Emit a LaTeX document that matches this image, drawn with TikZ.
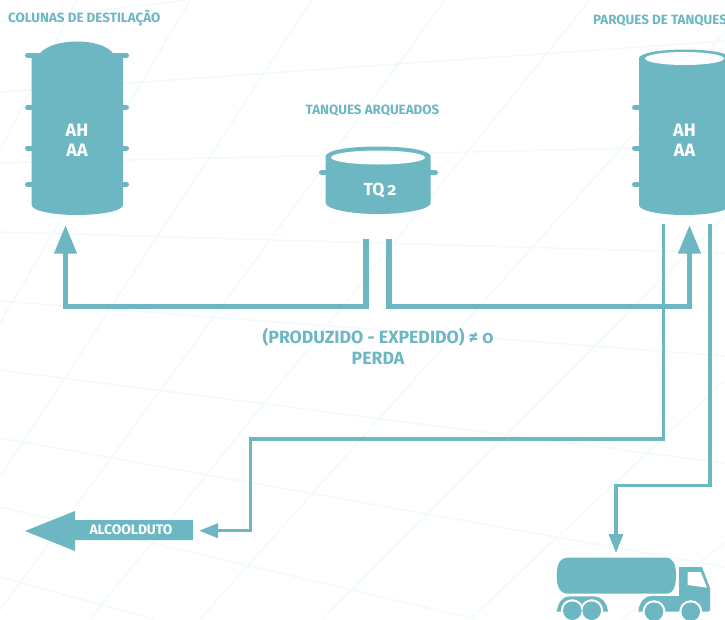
\documentclass[tikz,border=0pt]{standalone}
\usepackage{fontspec}
\setmainfont[Numbers=OldStyle]{Fira Sans}
\usetikzlibrary{arrows.meta}
\definecolor{tealmain}{HTML}{6CB7C2}
\definecolor{gridfaint}{HTML}{F0FAFC}
\tikzset{
    title/.style={font=\bfseries\fontsize{13.4}{16}\selectfont,text=tealmain,inner sep=0pt},
    inner/.style={font=\bfseries\fontsize{18}{20}\selectfont,text=white,inner sep=0pt,align=center},
    stub/.style={line width=5pt,line cap=round,tealmain},
    pipe/.style={line width=5.5pt,tealmain},
    thinpipe/.style={line width=3.5pt,tealmain},
    bigtip/.style={-{Triangle[length=28.5pt,width=21.5pt]}},
    smalltip/.style={-{Triangle[length=19pt,width=14pt]}}
}
\begin{document}
\begin{tikzpicture}[x=1pt,y=-1pt]
\useasboundingbox (0,0) rectangle (725,619);
\clip (0,0) rectangle (725,619);

% Draw the faint grid behind everything
\foreach \a/\b/\c/\d in {0/22/187/0,0/92/725/41,0/163/725/146,0/232/725/253,0/301/725/356,
    0/370/725/463,0/438/725/567,0/507/475/619,0/577/153/619,
    77/0/0/150,190/0/0/323,312/0/0/477,445/0/0/610,590/0/90/619,
    725/32/200/619,725/215/323/619,725/380/470/619,725/543/622/619}{
    \draw[gridfaint,line width=1.4pt] (\a,\b) -- (\c,\d);
}

% Draw the distillation column
\fill[tealmain] (31.7,55) -- (40,53) .. controls (48,45) and (62,41.5) .. (77,41.5)
    .. controls (92,41.5) and (106,45) .. (113,53) -- (123,55) -- (123,205)
    .. controls (123,211) and (100,215) .. (77,215)
    .. controls (54,215) and (31.7,211) .. (31.7,205) -- cycle;
\draw[stub] (27.5,55.5) -- (126.5,55.5);
\foreach \y in {107.5,148,184.5}{
    \draw[stub] (27.5,\y) -- (36,\y);
    \draw[stub] (119,\y) -- (126.5,\y);
}

% Draw the gauged tank
\fill[tealmain] (325.7,156) .. controls (327,150) and (350,146.5) .. (378,146.5)
    .. controls (406,146.5) and (429,150) .. (430.7,156) -- (430.7,203)
    .. controls (430.7,209) and (406,214) .. (378,214)
    .. controls (350,214) and (325.7,209) .. (325.7,203) -- cycle;
\fill[white] (378,157.5) ellipse (47 and 7);
\draw[stub] (321.5,172.5) -- (330,172.5);
\draw[stub] (426,172.5) -- (435.5,172.5);

% Draw the tank farm
\fill[tealmain] (639,58) .. controls (640,53) and (660,49.5) .. (684.5,49.5)
    .. controls (709,49.5) and (730,53) .. (730,58) -- (730,205)
    .. controls (730,211) and (708,215) .. (684.5,215)
    .. controls (661,215) and (639,211) .. (639,205) -- cycle;
\fill[white] (684.5,58.5) ellipse (39.5 and 6.5);
\foreach \y in {107.5,148,184.5}{
    \draw[stub] (634.5,\y) -- (643,\y);
}

% Draw the pipeline arrow
\fill[tealmain] (25,531) -- (75,511) -- (75,520) -- (193,520) -- (193,540) -- (75,540) -- (75,551) -- cycle;

% Draw the truck
\fill[tealmain] (568,557.7) -- (666,557.7) .. controls (673,557.7) and (676,564) .. (676,575.7)
    .. controls (676,587) and (673,593.7) .. (666,593.7) -- (568,593.7)
    .. controls (560,593.7) and (556.7,587) .. (556.7,575.7)
    .. controls (556.7,564) and (560,557.7) .. (568,557.7) -- cycle;
\fill[tealmain] (638.3,611.7) .. controls (639.5,602) and (644,596) .. (652,596) -- (679,596) -- (679,567)
    -- (702,567) -- (710,588) -- (710,609.5) .. controls (710,611) and (709,611.7) .. (708,611.7) -- cycle;
\fill[tealmain] (556.7,611.7) .. controls (558,602) and (563,596.3) .. (570,596.3) -- (594,596.3)
    .. controls (601,596.3) and (607,602) .. (608,611.7) -- cycle;
\fill[white] (687.7,572) -- (700.7,572) -- (707,587.7) -- (687.7,585) -- cycle;
\foreach \x/\y in {572.3/610.7,591.7/610.7,654/611.7,690.7/611.7}{
    \fill[white] (\x,\y) circle (11.5);
}
\foreach \x/\y in {572.3/610.7,591.7/610.7,654/611.7,690.7/611.7}{
    \fill[tealmain] (\x,\y) circle (9.3);
}

% Name the free ends of the connectors
\coordinate (colunatip) at (65.5,225);
\coordinate (tanqueleft) at (366,239);
\coordinate (tanqueright) at (389,239);
\coordinate (parquetip) at (689.5,225);
\coordinate (saidaduto) at (663.5,224);
\coordinate (saidacarga) at (710,224);
\coordinate (dutotip) at (199,530.7);
\coordinate (cargatip) at (616,553);

% Draw the connectors
\draw[pipe,bigtip] (tanqueleft) |- (65.5,306.7) -- (colunatip);
\draw[pipe,bigtip] (tanqueright) |- (689.5,306.7) -- (parquetip);
\draw[thinpipe,smalltip] (saidaduto) |- (250.7,439) |- (dutotip);
\draw[thinpipe,smalltip] (saidacarga) |- (616,485.3) -- (cargatip);

% Write the labels
\node[title,anchor=west] (colunas) at (8,18) {COLUNAS DE DESTILAÇÃO};
\node[title,anchor=west] (parques) at (593,21) {PARQUES DE TANQUES};
\node[title] (arqueados) at (372.5,110.5) {TANQUES ARQUEADOS};
\node[inner] (colunatext) at (77,140) {AH\\AA};
\node[inner] (parquetext) at (684.5,140) {AH\\AA};
\node[inner,font=\bfseries\fontsize{17.5}{18}\selectfont] (tanquetext) at (380,190.5) {TQ\,2};
\node[title,font=\bfseries\fontsize{17.7}{21}\selectfont,align=center] (perda) at (378,346)
    {(PRODUZIDO - EXPEDIDO) ≠ 0\\PERDA};
\node[title,text=white,font=\bfseries\fontsize{13.8}{16}\selectfont] (duto) at (131,529.5) {ALCOOLDUTO};

\end{tikzpicture}
\end{document}
